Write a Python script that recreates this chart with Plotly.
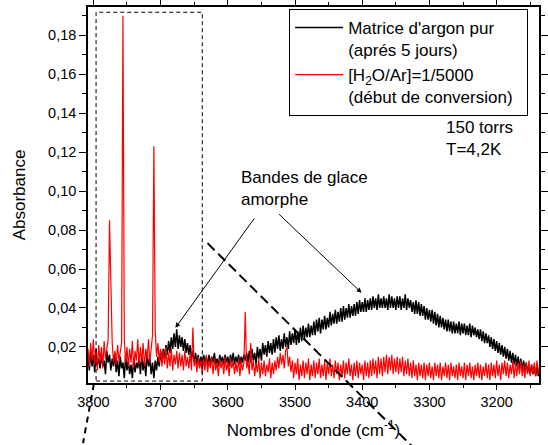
import plotly.graph_objects as go

# Wavenumbers (cm-1): sampling grid of both spectra
wavenumbers = [
    3808, 3806, 3804, 3802, 3800, 3798, 3796, 3794, 3792, 3790,
    3788, 3786, 3784, 3782, 3780, 3778, 3776, 3774, 3772, 3770,
    3768, 3766, 3764, 3762, 3760, 3758, 3756, 3754, 3752, 3750,
    3748, 3746, 3744, 3742, 3740, 3738, 3736, 3734, 3732, 3730,
    3728, 3726, 3724, 3722, 3720, 3718, 3716, 3714, 3712, 3710,
    3708, 3706, 3704, 3702, 3700, 3698, 3696, 3694, 3692, 3690,
    3688, 3686, 3684, 3682, 3680, 3678, 3676, 3674, 3672, 3670,
    3668, 3666, 3664, 3662, 3660, 3658, 3656, 3654, 3652, 3650,
    3648, 3646, 3644, 3642, 3640, 3638, 3636, 3634, 3632, 3630,
    3628, 3626, 3624, 3622, 3620, 3618, 3616, 3614, 3612, 3610,
    3608, 3606, 3604, 3602, 3600, 3598, 3596, 3594, 3592, 3590,
    3588, 3586, 3584, 3582, 3580, 3578, 3576, 3574, 3572, 3570,
    3568, 3566, 3564, 3562, 3560, 3558, 3556, 3554, 3552, 3550,
    3548, 3546, 3544, 3542, 3540, 3538, 3536, 3534, 3532, 3530,
    3528, 3526, 3524, 3522, 3520, 3518, 3516, 3514, 3512, 3510,
    3508, 3506, 3504, 3502, 3500, 3498, 3496, 3494, 3492, 3490,
    3488, 3486, 3484, 3482, 3480, 3478, 3476, 3474, 3472, 3470,
    3468, 3466, 3464, 3462, 3460, 3458, 3456, 3454, 3452, 3450,
    3448, 3446, 3444, 3442, 3440, 3438, 3436, 3434, 3432, 3430,
    3428, 3426, 3424, 3422, 3420, 3418, 3416, 3414, 3412, 3410,
    3408, 3406, 3404, 3402, 3400, 3398, 3396, 3394, 3392, 3390,
    3388, 3386, 3384, 3382, 3380, 3378, 3376, 3374, 3372, 3370,
    3368, 3366, 3364, 3362, 3360, 3358, 3356, 3354, 3352, 3350,
    3348, 3346, 3344, 3342, 3340, 3338, 3336, 3334, 3332, 3330,
    3328, 3326, 3324, 3322, 3320, 3318, 3316, 3314, 3312, 3310,
    3308, 3306, 3304, 3302, 3300, 3298, 3296, 3294, 3292, 3290,
    3288, 3286, 3284, 3282, 3280, 3278, 3276, 3274, 3272, 3270,
    3268, 3266, 3264, 3262, 3260, 3258, 3256, 3254, 3252, 3250,
    3248, 3246, 3244, 3242, 3240, 3238, 3236, 3234, 3232, 3230,
    3228, 3226, 3224, 3222, 3220, 3218, 3216, 3214, 3212, 3210,
    3208, 3206, 3204, 3202, 3200, 3198, 3196, 3194, 3192, 3190,
    3188, 3186, 3184, 3182, 3180, 3178, 3176, 3174, 3172, 3170,
    3168, 3166, 3164, 3162, 3160, 3158, 3156, 3154, 3152, 3150,
    3148, 3146, 3144, 3142, 3140, 3138, 3136,
]

# Matrice d'argon pur (apres 5 jours) -- absorbance
absorb_argon = [
    0.015, 0.008, 0.018, 0.010, 0.016, 0.007, 0.019, 0.011, 0.014, 0.009,
    0.017, 0.010, 0.013, 0.006, 0.018, 0.012, 0.016, 0.008, 0.014, 0.010,
    0.017, 0.007, 0.013, 0.005, 0.015, 0.009, 0.012, 0.004, 0.016, 0.008,
    0.013, 0.006, 0.011, 0.004, 0.014, 0.007, 0.012, 0.009, 0.015, 0.006,
    0.016, 0.008, 0.013, 0.005, 0.017, 0.010, 0.014, 0.006, 0.012, 0.004,
    0.013, 0.008, 0.015, 0.010, 0.018, 0.012, 0.019, 0.014, 0.021, 0.016,
    0.023, 0.017, 0.025, 0.019, 0.027, 0.020, 0.029, 0.019, 0.026, 0.020,
    0.025, 0.018, 0.024, 0.017, 0.022, 0.016, 0.021, 0.014, 0.018, 0.012,
    0.017, 0.011, 0.016, 0.010, 0.015, 0.011, 0.016, 0.012, 0.015, 0.010,
    0.016, 0.011, 0.015, 0.012, 0.017, 0.011, 0.014, 0.010, 0.016, 0.012,
    0.015, 0.011, 0.016, 0.012, 0.015, 0.010, 0.016, 0.012, 0.017, 0.011,
    0.015, 0.012, 0.016, 0.011, 0.015, 0.012, 0.016, 0.013, 0.017, 0.012,
    0.018, 0.012, 0.019, 0.013, 0.017, 0.011, 0.020, 0.014, 0.019, 0.013,
    0.022, 0.016, 0.021, 0.015, 0.023, 0.017, 0.022, 0.016, 0.024, 0.017,
    0.025, 0.019, 0.026, 0.018, 0.024, 0.019, 0.027, 0.020, 0.025, 0.019,
    0.028, 0.021, 0.027, 0.022, 0.029, 0.021, 0.028, 0.022, 0.030, 0.023,
    0.031, 0.024, 0.030, 0.025, 0.032, 0.025, 0.031, 0.026, 0.033, 0.026,
    0.034, 0.028, 0.035, 0.027, 0.034, 0.029, 0.036, 0.029, 0.035, 0.030,
    0.038, 0.031, 0.037, 0.032, 0.039, 0.032, 0.038, 0.033, 0.040, 0.033,
    0.041, 0.034, 0.040, 0.035, 0.042, 0.035, 0.041, 0.036, 0.042, 0.036,
    0.043, 0.037, 0.044, 0.038, 0.043, 0.038, 0.045, 0.038, 0.044, 0.039,
    0.045, 0.039, 0.046, 0.040, 0.045, 0.039, 0.047, 0.040, 0.045, 0.040,
    0.046, 0.040, 0.045, 0.039, 0.047, 0.040, 0.046, 0.040, 0.045, 0.039,
    0.046, 0.040, 0.046, 0.039, 0.045, 0.040, 0.047, 0.039, 0.045, 0.040,
    0.044, 0.038, 0.043, 0.037, 0.044, 0.037, 0.043, 0.036, 0.042, 0.036,
    0.041, 0.034, 0.040, 0.034, 0.039, 0.033, 0.039, 0.032, 0.038, 0.031,
    0.037, 0.030, 0.036, 0.030, 0.035, 0.029, 0.034, 0.028, 0.034, 0.028,
    0.033, 0.027, 0.033, 0.027, 0.032, 0.027, 0.033, 0.026, 0.032, 0.027,
    0.032, 0.026, 0.031, 0.026, 0.032, 0.025, 0.031, 0.026, 0.030, 0.025,
    0.029, 0.024, 0.029, 0.023, 0.028, 0.022, 0.027, 0.022, 0.026, 0.020,
    0.025, 0.019, 0.024, 0.018, 0.023, 0.017, 0.022, 0.016, 0.021, 0.015,
    0.020, 0.014, 0.019, 0.013, 0.018, 0.012, 0.017, 0.011, 0.016, 0.010,
    0.015, 0.009, 0.014, 0.008, 0.013, 0.008, 0.012, 0.007, 0.011, 0.006,
    0.011, 0.006, 0.010, 0.005, 0.010, 0.005, 0.009,
]

# [H2O/Ar]=1/5000 (debut de conversion) -- absorbance
absorb_h2o = [
    0.019, 0.010, 0.022, 0.013, 0.024, 0.011, 0.018, 0.008, 0.021, 0.012,
    0.020, 0.009, 0.023, 0.014, 0.019, 0.024, 0.085, 0.060, 0.022, 0.012,
    0.018, 0.011, 0.021, 0.013, 0.017, 0.022, 0.190, 0.024, 0.012, 0.020,
    0.010, 0.019, 0.012, 0.023, 0.009, 0.018, 0.013, 0.024, 0.011, 0.020,
    0.012, 0.022, 0.010, 0.019, 0.014, 0.024, 0.012, 0.020, 0.026, 0.123,
    0.028, 0.015, 0.022, 0.012, 0.019, 0.010, 0.018, 0.011, 0.020, 0.009,
    0.017, 0.010, 0.019, 0.008, 0.016, 0.011, 0.018, 0.009, 0.017, 0.010,
    0.016, 0.008, 0.018, 0.010, 0.015, 0.009, 0.017, 0.008, 0.030, 0.010,
    0.014, 0.007, 0.015, 0.009, 0.013, 0.006, 0.014, 0.008, 0.016, 0.007,
    0.013, 0.009, 0.015, 0.006, 0.014, 0.008, 0.012, 0.005, 0.014, 0.009,
    0.013, 0.006, 0.015, 0.008, 0.012, 0.005, 0.014, 0.009, 0.013, 0.006,
    0.012, 0.007, 0.014, 0.005, 0.013, 0.008, 0.012, 0.038, 0.009, 0.013,
    0.006, 0.022, 0.008, 0.013, 0.005, 0.012, 0.007, 0.014, 0.004, 0.012,
    0.006, 0.013, 0.005, 0.011, 0.007, 0.014, 0.004, 0.012, 0.006, 0.013,
    0.008, 0.015, 0.009, 0.017, 0.011, 0.016, 0.009, 0.018, 0.020, 0.010,
    0.015, 0.007, 0.013, 0.004, 0.012, 0.006, 0.014, 0.003, 0.011, 0.005,
    0.013, 0.004, 0.012, 0.006, 0.014, 0.003, 0.011, 0.005, 0.013, 0.004,
    0.012, 0.006, 0.014, 0.004, 0.011, 0.005, 0.013, 0.003, 0.012, 0.006,
    0.014, 0.005, 0.011, 0.004, 0.013, 0.006, 0.012, 0.003, 0.011, 0.005,
    0.013, 0.004, 0.012, 0.006, 0.014, 0.005, 0.011, 0.003, 0.012, 0.005,
    0.013, 0.004, 0.012, 0.006, 0.011, 0.003, 0.013, 0.005, 0.012, 0.004,
    0.013, 0.005, 0.014, 0.006, 0.013, 0.004, 0.015, 0.006, 0.014, 0.005,
    0.015, 0.007, 0.016, 0.006, 0.015, 0.008, 0.016, 0.006, 0.014, 0.007,
    0.015, 0.006, 0.014, 0.007, 0.015, 0.005, 0.013, 0.006, 0.014, 0.005,
    0.012, 0.004, 0.013, 0.005, 0.011, 0.003, 0.012, 0.005, 0.011, 0.004,
    0.012, 0.003, 0.011, 0.005, 0.012, 0.004, 0.010, 0.003, 0.012, 0.005,
    0.011, 0.004, 0.012, 0.003, 0.010, 0.005, 0.012, 0.004, 0.011, 0.003,
    0.012, 0.005, 0.010, 0.004, 0.011, 0.003, 0.012, 0.005, 0.010, 0.004,
    0.012, 0.003, 0.011, 0.005, 0.012, 0.004, 0.010, 0.003, 0.011, 0.005,
    0.012, 0.004, 0.011, 0.003, 0.010, 0.005, 0.012, 0.004, 0.011, 0.003,
    0.012, 0.005, 0.011, 0.004, 0.013, 0.005, 0.011, 0.003, 0.012, 0.006,
    0.013, 0.005, 0.012, 0.004, 0.011, 0.006, 0.013, 0.004, 0.012, 0.005,
    0.012, 0.006, 0.013, 0.005, 0.011, 0.004, 0.012, 0.006, 0.013, 0.005,
    0.011, 0.006, 0.012, 0.005, 0.013, 0.006, 0.011,
]

NBSP = "\u00a0"
series_names = [
    "Matrice d'argon pur<br>(aprés 5 jours)",
    "[H<sub>2</sub>O/Ar]=1/5000<br>(début de conversion)" + NBSP * 2,
]

x_ticks = [3800, 3700, 3600, 3500, 3400, 3300, 3200]
x_range = [3808, 3137]
y_range = [0.0015, 0.1945]

FONT = "Arial, 'Liberation Sans', sans-serif"

fig = go.Figure()
fig.add_trace(go.Scatter(x=wavenumbers, y=absorb_argon, mode="lines",
                         name=series_names[0],
                         line=dict(color="black", width=1.5)))
fig.add_trace(go.Scatter(x=wavenumbers, y=absorb_h2o, mode="lines",
                         name=series_names[1],
                         line=dict(color="#ff0000", width=1.2)))

axis_common = dict(
    showline=True, linecolor="black", linewidth=1.5, mirror="ticks",
    ticks="outside", tickcolor="black", tickwidth=1.2,
    showgrid=False, zeroline=False,
    tickfont=dict(family=FONT, size=14.5, color="black"),
)

fig.update_xaxes(
    range=x_range, tickvals=x_ticks, ticklen=5,
    minor=dict(dtick=50, ticklen=3, ticks="outside", tickcolor="black", tickwidth=1.2),
    title=dict(text="Nombres d'onde (cm<sup>-1</sup>)",
               font=dict(family=FONT, size=17, color="black"), standoff=15),
    **axis_common,
)
fig.update_yaxes(
    range=y_range, tick0=0, dtick=0.02, tickformat=".2f", ticklen=7,
    minor=dict(dtick=0.01, ticklen=4, ticks="outside", tickcolor="black", tickwidth=1.2),
    title=dict(text="Absorbance", font=dict(family=FONT, size=17, color="black"),
               standoff=18),
    **axis_common,
)

shapes = [
    # dashed zoom box around the sharp peaks
    dict(type="rect", xref="x", yref="y", x0=3796, x1=3638, y0=0.0025, y1=0.1918,
         line=dict(color="black", width=1, dash="4px,3px"), layer="above"),
    # long dashed guide lines
    dict(type="line", xref="paper", yref="paper", x0=0.265, y0=0.372, x1=0.72, y1=-0.17,
         line=dict(color="black", width=2, dash="10px,5px"), layer="above"),
    dict(type="line", xref="paper", yref="paper", x0=0.013, y0=-0.003, x1=-0.011, y1=-0.16,
         line=dict(color="black", width=2, dash="6px,5px"), layer="above"),
]

annotations = [
    dict(text="Bandes de glace<br>amorphe", xref="paper", yref="paper",
         x=0.335, y=0.578, xanchor="left", yanchor="top", align="left",
         showarrow=False, font=dict(family=FONT, size=17, color="black")),
    dict(text="", x=3678, y=0.0298, xref="x", yref="y", showarrow=True,
         ax=80, ay=-111, arrowhead=2, arrowsize=1, arrowwidth=1, arrowcolor="black",
         standoff=0),
    dict(text="", x=3401, y=0.0478, xref="x", yref="y", showarrow=True,
         ax=-84, ay=-80, arrowhead=2, arrowsize=1, arrowwidth=1, arrowcolor="black",
         standoff=0),
    dict(text="150 torrs<br>T=4,2K", xref="paper", yref="paper",
         x=0.789, y=0.71, xanchor="left", yanchor="top", align="left",
         showarrow=False, font=dict(family=FONT, size=17, color="black")),
]

fig.update_layout(
    width=548, height=445,
    margin=dict(l=88, r=0, t=7, b=62),
    paper_bgcolor="white", plot_bgcolor="white",
    separators=",.",
    font=dict(family=FONT, size=17, color="black"),
    showlegend=True,
    legend=dict(x=0.446, y=0.995, xanchor="left", yanchor="top",
                bordercolor="black", borderwidth=1, bgcolor="white",
                valign="top", font=dict(family=FONT, size=17, color="black"),
                tracegroupgap=0, itemwidth=48),
    shapes=shapes,
    annotations=annotations,
)

fig.write_html("out.html", config={"displayModeBar": False},
               post_script="document.body.style.margin='0px';")
